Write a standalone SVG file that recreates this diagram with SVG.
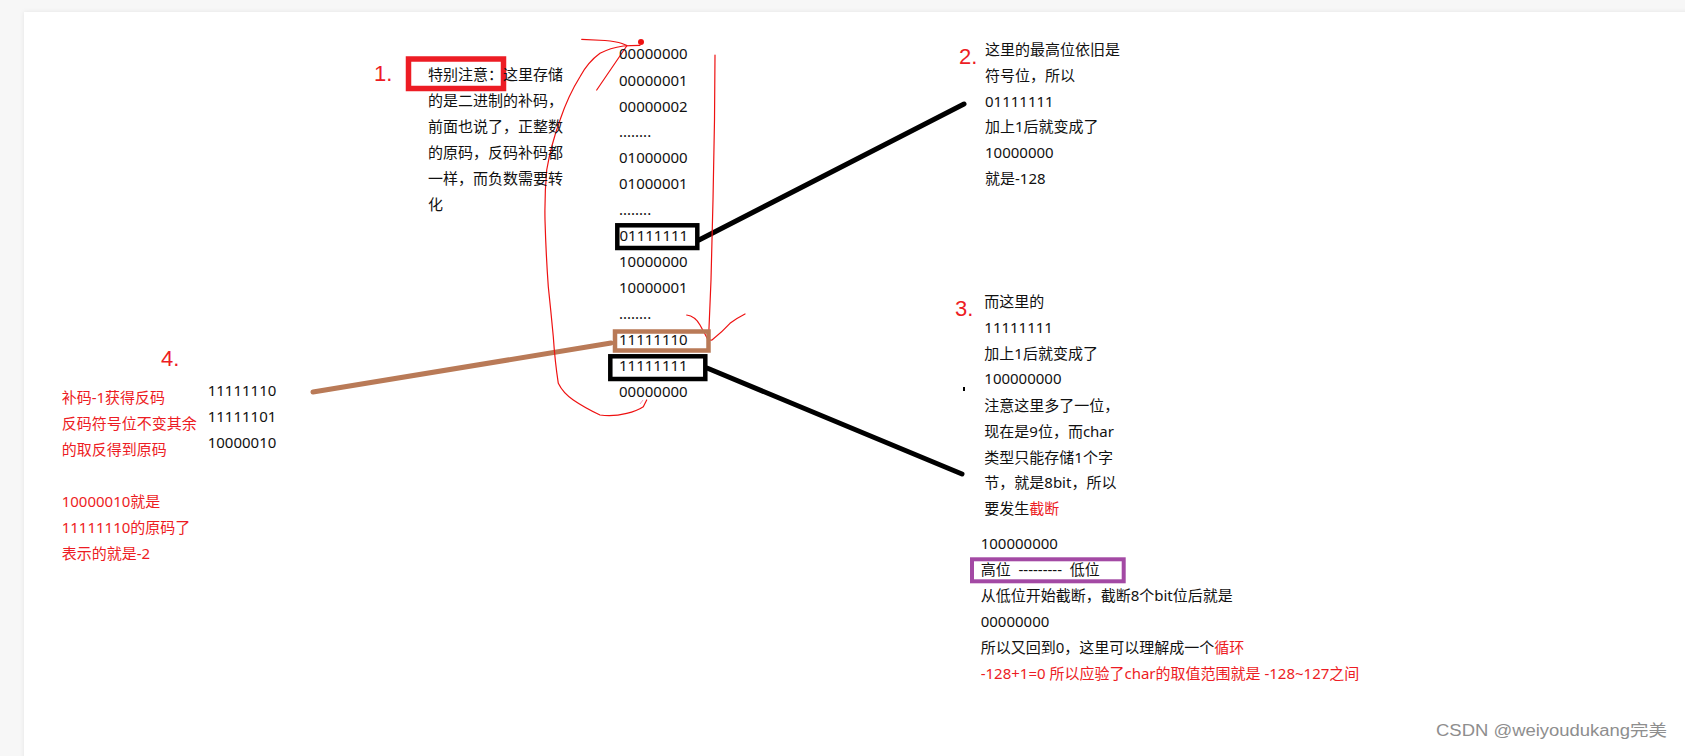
<svg xmlns="http://www.w3.org/2000/svg" width="1685" height="756" viewBox="0 0 1685 756">
<defs>
<style>
.t{font-family:"Noto Sans","Noto Sans CJK SC",sans-serif;font-size:15px;fill:#111}
.r{fill:#ed1c24}
.num{font-family:"Liberation Sans","Noto Sans CJK SC",sans-serif;font-size:22px;fill:#ed1c24}
.pen{fill:none;stroke:#ee1111;stroke-width:1.2;stroke-linecap:round;stroke-linejoin:round}
.blk{fill:none;stroke:#000;stroke-width:4.5}
</style>
<filter id="sh" x="-5%" y="-5%" width="110%" height="110%"><feDropShadow dx="0" dy="0" stdDeviation="2" flood-color="#000" flood-opacity="0.08"/></filter>
</defs>
<rect width="1685" height="756" fill="#f7f7f7"/>
<rect x="24" y="12" width="1700" height="780" fill="#fff" filter="url(#sh)"/>

<g id="connectors">
<line x1="699" y1="240" x2="964" y2="104" stroke="#000" stroke-width="5" stroke-linecap="round"/>
<line x1="707" y1="368" x2="962" y2="474" stroke="#000" stroke-width="5" stroke-linecap="round"/>
<line x1="313" y1="392" x2="611" y2="343" stroke="#b97a57" stroke-width="5" stroke-linecap="round"/>
<rect x="963" y="387" width="2" height="4" fill="#000"/>
</g>

<g id="pen-marks">
<path class="pen" d="M581.7,39.3 L605,40.5 Q616,41.5 622,43.5 L627,45.5"/>
<path class="pen" d="M626.7,46 L596.7,90"/>
<path class="pen" d="M640,45.3 Q630,45.5 623.3,46 Q610,48 600,53.3 Q588,62 580,76.7 Q568,96 560,120 Q551,145 546.7,170 Q544.5,195 545,220 Q546,255 548.3,286.7 Q551,312 553.3,336.7 Q555,362 558.3,383.3 Q563,393 573.3,400 Q585,408 600,415 Q613,417 626.7,413.3 Q637,411 643.3,406.7 L646.7,400"/>
<path class="pen" d="M715,55 L714.5,120 L713,200 L711,280 L708.5,340"/>
<path class="pen" d="M686.7,315 Q695,316 700,325 L706,336 Q708,341 712,340 Q722,332 730,323.3 Q737,318 745,314"/>
<path d="M640,404 L643,400" fill="none" stroke="#f4a0c0" stroke-width="1"/>
<circle cx="641" cy="42" r="3" fill="#ee1111"/>
</g>

<g id="note1">
<text class="num" x="374" y="81">1.</text>
<rect x="408.5" y="59" width="95" height="29.5" fill="none" stroke="#ed1c24" stroke-width="5.5"/>
<text class="t" x="428" y="80">特别注意：这里存储</text>
<text class="t" x="428" y="106">的是二进制的补码，</text>
<text class="t" x="428" y="132">前面也说了，正整数</text>
<text class="t" x="428" y="158">的原码，反码补码都</text>
<text class="t" x="428" y="184">一样，而负数需要转</text>
<text class="t" x="428" y="210">化</text>
</g>

<g id="binary-column">
<text class="t" x="619" y="59.3">00000000</text>
<text class="t" x="619" y="85.7">00000001</text>
<text class="t" x="619" y="111.7">00000002</text>
<text class="t" x="619" y="137.3">........</text>
<text class="t" x="619" y="163.3">01000000</text>
<text class="t" x="619" y="189.3">01000001</text>
<text class="t" x="619" y="215">........</text>
<text class="t" x="619" y="267">10000000</text>
<text class="t" x="619" y="293.3">10000001</text>
<text class="t" x="619" y="319">........</text>
<text class="t" x="619" y="397">00000000</text>
</g>

<g id="box-01111111">
<rect class="blk" x="617.3" y="225.3" width="80" height="22.7"/>
<text class="t" x="619.5" y="241.3">01111111</text>
</g>

<g id="box-11111110">
<rect x="615" y="331.5" width="93.5" height="19" fill="none" stroke="#b97a57" stroke-width="4.5"/>
<text class="t" x="619" y="345">11111110</text>
</g>

<g id="box-11111111">
<rect class="blk" x="610.3" y="356.3" width="95" height="22.7"/>
<text class="t" x="619" y="371">11111111</text>
</g>

<g id="note2">
<text class="num" x="959" y="63.5">2.</text>
<text class="t" x="985" y="55">这里的最高位依旧是</text>
<text class="t" x="985" y="81">符号位，所以</text>
<text class="t" x="985" y="106.7">01111111</text>
<text class="t" x="985" y="132.3">加上1后就变成了</text>
<text class="t" x="985" y="158.3">10000000</text>
<text class="t" x="985" y="184.3">就是-128</text>
</g>

<g id="note3">
<text class="num" x="955" y="316">3.</text>
<text class="t" x="984.3" y="306.7">而这里的</text>
<text class="t" x="984.3" y="332.7">11111111</text>
<text class="t" x="984.3" y="359">加上1后就变成了</text>
<text class="t" x="984.3" y="384.3">100000000</text>
<text class="t" x="984.3" y="410.7">注意这里多了一位，</text>
<text class="t" x="984.3" y="436.7">现在是9位，而char</text>
<text class="t" x="984.3" y="462.7">类型只能存储1个字</text>
<text class="t" x="984.3" y="488.3">节，就是8bit，所以</text>
<text class="t" x="984.3" y="514.3">要发生<tspan class="r">截断</tspan></text>
</g>

<g id="truncation">
<text class="t" x="980.7" y="549.3">100000000</text>
<rect x="972" y="559.3" width="151.7" height="22" fill="none" stroke="#a349a4" stroke-width="4"/>
<text class="t" x="980.7" y="575" xml:space="preserve">高位  ---------  低位</text>
<text class="t" x="980.7" y="601">从低位开始截断，截断8个bit位后就是</text>
<text class="t" x="980.7" y="626.7">00000000</text>
<text class="t" x="980.7" y="652.7">所以又回到0，这里可以理解成一个<tspan class="r">循环</tspan></text>
<text class="t r" x="980.7" y="678.7">-128+1=0 所以应验了char的取值范围就是 -128~127之间</text>
</g>

<g id="note4">
<text class="num" x="161" y="366">4.</text>
<text class="t r" x="61.7" y="402.7">补码-1获得反码</text>
<text class="t r" x="61.7" y="429">反码符号位不变其余</text>
<text class="t r" x="61.7" y="455">的取反得到原码</text>
<text class="t r" x="61.7" y="506.7">10000010就是</text>
<text class="t r" x="61.7" y="532.7">11111110的原码了</text>
<text class="t r" x="61.7" y="558.7">表示的就是-2</text>
</g>

<g id="note4-binary">
<text class="t" x="207.7" y="396">11111110</text>
<text class="t" x="207.7" y="422">11111101</text>
<text class="t" x="207.7" y="448">10000010</text>
</g>

<text x="1436" y="736" font-family="'Liberation Sans','Noto Sans CJK SC',sans-serif" font-size="16" fill="#8e8e8e" textLength="231" lengthAdjust="spacingAndGlyphs">CSDN @weiyoudukang完美</text>
</svg>
